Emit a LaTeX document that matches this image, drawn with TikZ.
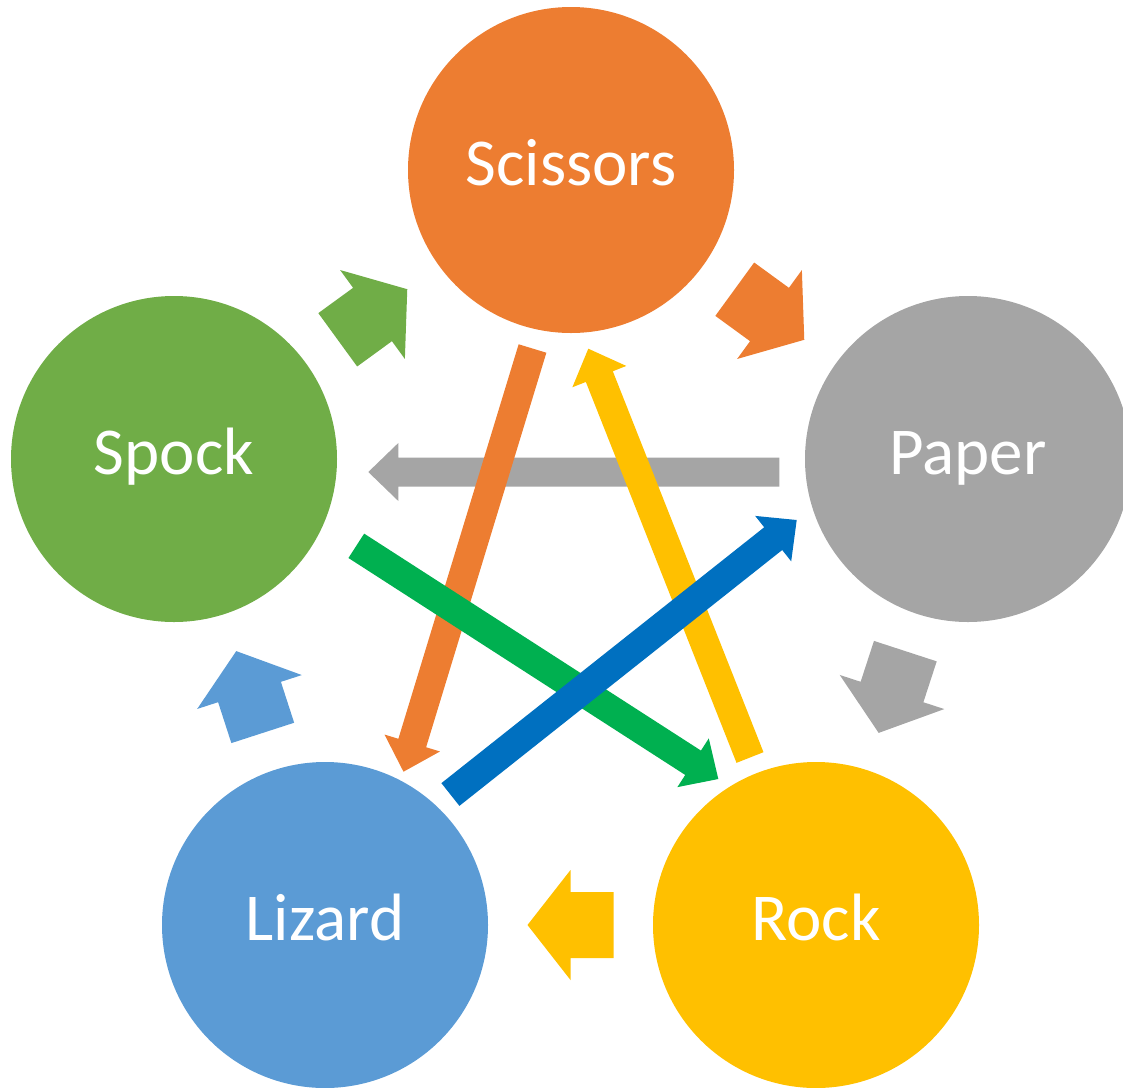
\documentclass[tikz,border=0pt]{standalone}
\usepackage{fontspec}
\setmainfont{Carlito}
\usetikzlibrary{calc}

\definecolor{cScissors}{HTML}{ED7D31}
\definecolor{cSpock}{HTML}{70AD47}
\definecolor{cPaper}{HTML}{A5A5A5}
\definecolor{cLizard}{HTML}{5B9BD5}
\definecolor{cRock}{HTML}{FFC000}
\definecolor{cGreen}{HTML}{00B050}
\definecolor{cBlue}{HTML}{0070C0}

% Filled block arrow: tail, tip, shaft half-width, head half-width, head length, fill style
\newcommand\widearrow[6]{%
  \coordinate (wa-h) at ($(#2)!#5!(#1)$);
  \fill[#6] ($(#1)!#3!90:(#2)$) -- ($(wa-h)!#3!-90:(#1)$) -- ($(wa-h)!#4!-90:(#1)$) -- (#2)
    -- ($(wa-h)!#4!90:(#1)$) -- ($(wa-h)!#3!90:(#1)$) -- ($(#1)!#3!-90:(#2)$) -- cycle;}

% Short arrow centred on the edge between two hands
\newcommand\edgearrow[3]{%
  \coordinate (ea-m) at ($(#1.center)!0.5!(#2.center)$);
  \coordinate (ea-t) at ($(ea-m)!43pt!(#1.center)$);
  \coordinate (ea-p) at ($(ea-m)!43pt!(#2.center)$);
  \widearrow{ea-t}{ea-p}{33pt}{55pt}{43pt}{#3}}

\begin{document}
\begin{tikzpicture}[x=1pt,y=-1pt,
  hand/.style={circle, minimum size=326pt, inner sep=0pt, text=white,
    font=\fontsize{67}{72}\selectfont, text height=30pt, text depth=0pt}]
\useasboundingbox (0,0) rectangle (1123,1087);
\clip (0,0) rectangle (1123,1087);

% the five hands
\node[hand, fill=cScissors] (scissors) at (571,170) {Scissors};
\node[hand, fill=cSpock]    (spock)    at (174,459) {Spock};
\node[hand, fill=cPaper]    (paper)    at (968,459) {Paper};
\node[hand, fill=cLizard]   (lizard)   at (325,925) {Lizard};
\node[hand, fill=cRock]     (rock)     at (816,925) {Rock};

% short arrows around the pentagon
\edgearrow{spock}{scissors}{cSpock}
\edgearrow{scissors}{paper}{cScissors}
\edgearrow{paper}{rock}{cPaper}
\edgearrow{rock}{lizard}{cRock}
\edgearrow{lizard}{spock}{cLizard}

% ends of the long arrows across the middle
\coordinate (paper-out)    at (779.3,472);
\coordinate (spock-in)     at (368.3,472);
\coordinate (scissors-out) at (532.5,348.5);
\coordinate (lizard-in)    at (403.5,771.7);
\coordinate (rock-out)     at (750,757.5);
\coordinate (scissors-in)  at (588.3,348.7);
\coordinate (spock-out)    at (356.3,545.8);
\coordinate (rock-in)      at (718.3,779);
\coordinate (lizard-out)   at (450.4,794.5);
\coordinate (paper-in)     at (796.7,520);

\widearrow{paper-out}{spock-in}{14.5pt}{29pt}{30pt}{cPaper}
\widearrow{scissors-out}{lizard-in}{14.5pt}{29pt}{30pt}{cScissors}
\widearrow{rock-out}{scissors-in}{14.5pt}{29pt}{30pt}{cRock}
\widearrow{spock-out}{rock-in}{14.5pt}{29pt}{30pt}{cGreen}
\widearrow{lizard-out}{paper-in}{14.5pt}{29pt}{30pt}{cBlue}
\end{tikzpicture}
\end{document}
